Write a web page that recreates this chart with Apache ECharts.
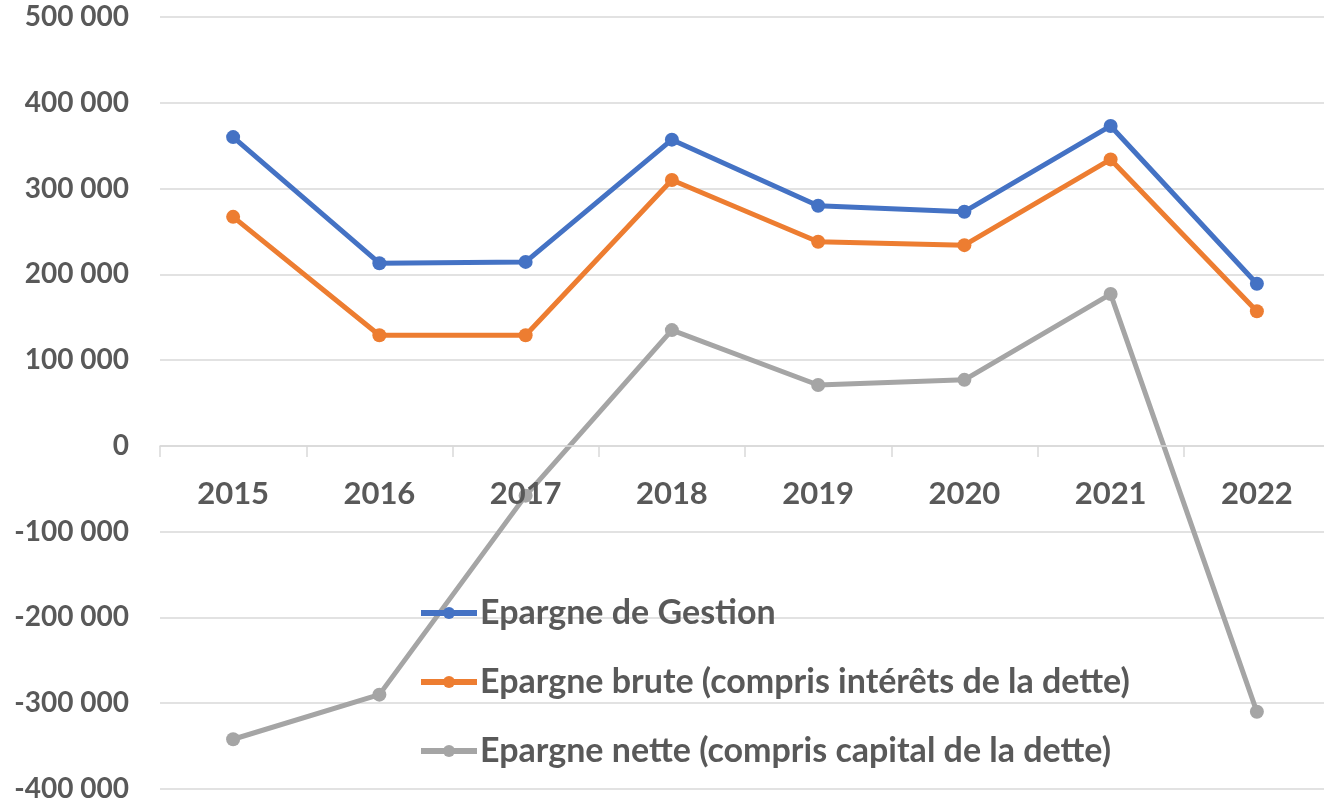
<!DOCTYPE html>
<html>
<head>
<meta charset="utf-8">
<script src="https://cdn.jsdelivr.net/npm/echarts@6/dist/echarts.min.js"></script>
<style>
  html, body { margin: 0; padding: 0; background: #fff; }
  #chart { width: 1324px; height: 801px; }
</style>
</head>
<body>
<div id="chart"></div>
<script>
var years = ['2015', '2016', '2017', '2018', '2019', '2020', '2021', '2022'];
var epargneGestion = [360000, 213000, 214500, 357000, 280000, 273000, 373000, 189000];
var epargneBrute = [267000, 129000, 129000, 310000, 238000, 234000, 334000, 157000];
var epargneNette = [-342000, -290000, -58000, 135000, 71000, 77000, 177000, -310000];
var seriesNames = [
    'Epargne de Gestion',
    'Epargne brute (compris intérêts de la dette)',
    'Epargne nette (compris capital de la dette)'
];
var colors = ['#4472C4', '#ED7D31', '#A5A5A5'];

var myChart = echarts.init(document.getElementById('chart'));

function fmt(v) {
    var s = String(Math.abs(v)).replace(/\B(?=(\d{3})+(?!\d))/g, ' ');
    return (v < 0 ? '-' : '') + s;
}

function lineSeries(name, data, color) {
    return {
        name: name,
        type: 'line',
        data: data,
        symbol: 'circle',
        symbolSize: 14,
        lineStyle: { width: 5, color: color },
        itemStyle: { color: color },
        z: 1
    };
}

var option = {
    animation: false,
    grid: { left: 160, right: -6, top: 17, bottom: 12, containLabel: false, outerBoundsMode: 'none' },
    legend: {
        orient: 'vertical',
        left: 418,
        top: 596,
        padding: 0,
        itemGap: 35,
        itemWidth: 56,
        itemHeight: 15,
        data: seriesNames,
        lineStyle: { width: 6 },
        textStyle: { fontFamily: 'Lato', fontWeight: 'bold', fontSize: 34, color: '#595959', padding: [0, 0, 0, -2] }
    },
    xAxis: {
        type: 'category',
        data: years,
        axisLine: { onZero: true, lineStyle: { color: '#d9d9d9', width: 1.5 } },
        axisTick: { show: true, length: 11, lineStyle: { color: '#d9d9d9', width: 1.5 } },
        // labels sit under the zero line, not at the grid bottom
        axisLabel: { margin: -311, fontFamily: 'Lato', fontWeight: 'bold', fontSize: 31, color: '#595959' },
        z: 3
    },
    yAxis: {
        type: 'value',
        min: -400000,
        max: 500000,
        interval: 100000,
        axisLine: { show: false },
        axisTick: { show: false },
        splitLine: { lineStyle: { color: '#d9d9d9', width: 1.5 } },
        axisLabel: {
            margin: 31,
            fontFamily: 'Lato',
            fontWeight: 'bold',
            fontSize: 28,
            color: '#595959',
            formatter: fmt
        }
    },
    series: [
        lineSeries(seriesNames[0], epargneGestion, colors[0]),
        lineSeries(seriesNames[1], epargneBrute, colors[1]),
        lineSeries(seriesNames[2], epargneNette, colors[2])
    ]
};

myChart.setOption(option);
window.addEventListener('resize', function () {
    myChart.resize();
});
</script>
</body>
</html>
